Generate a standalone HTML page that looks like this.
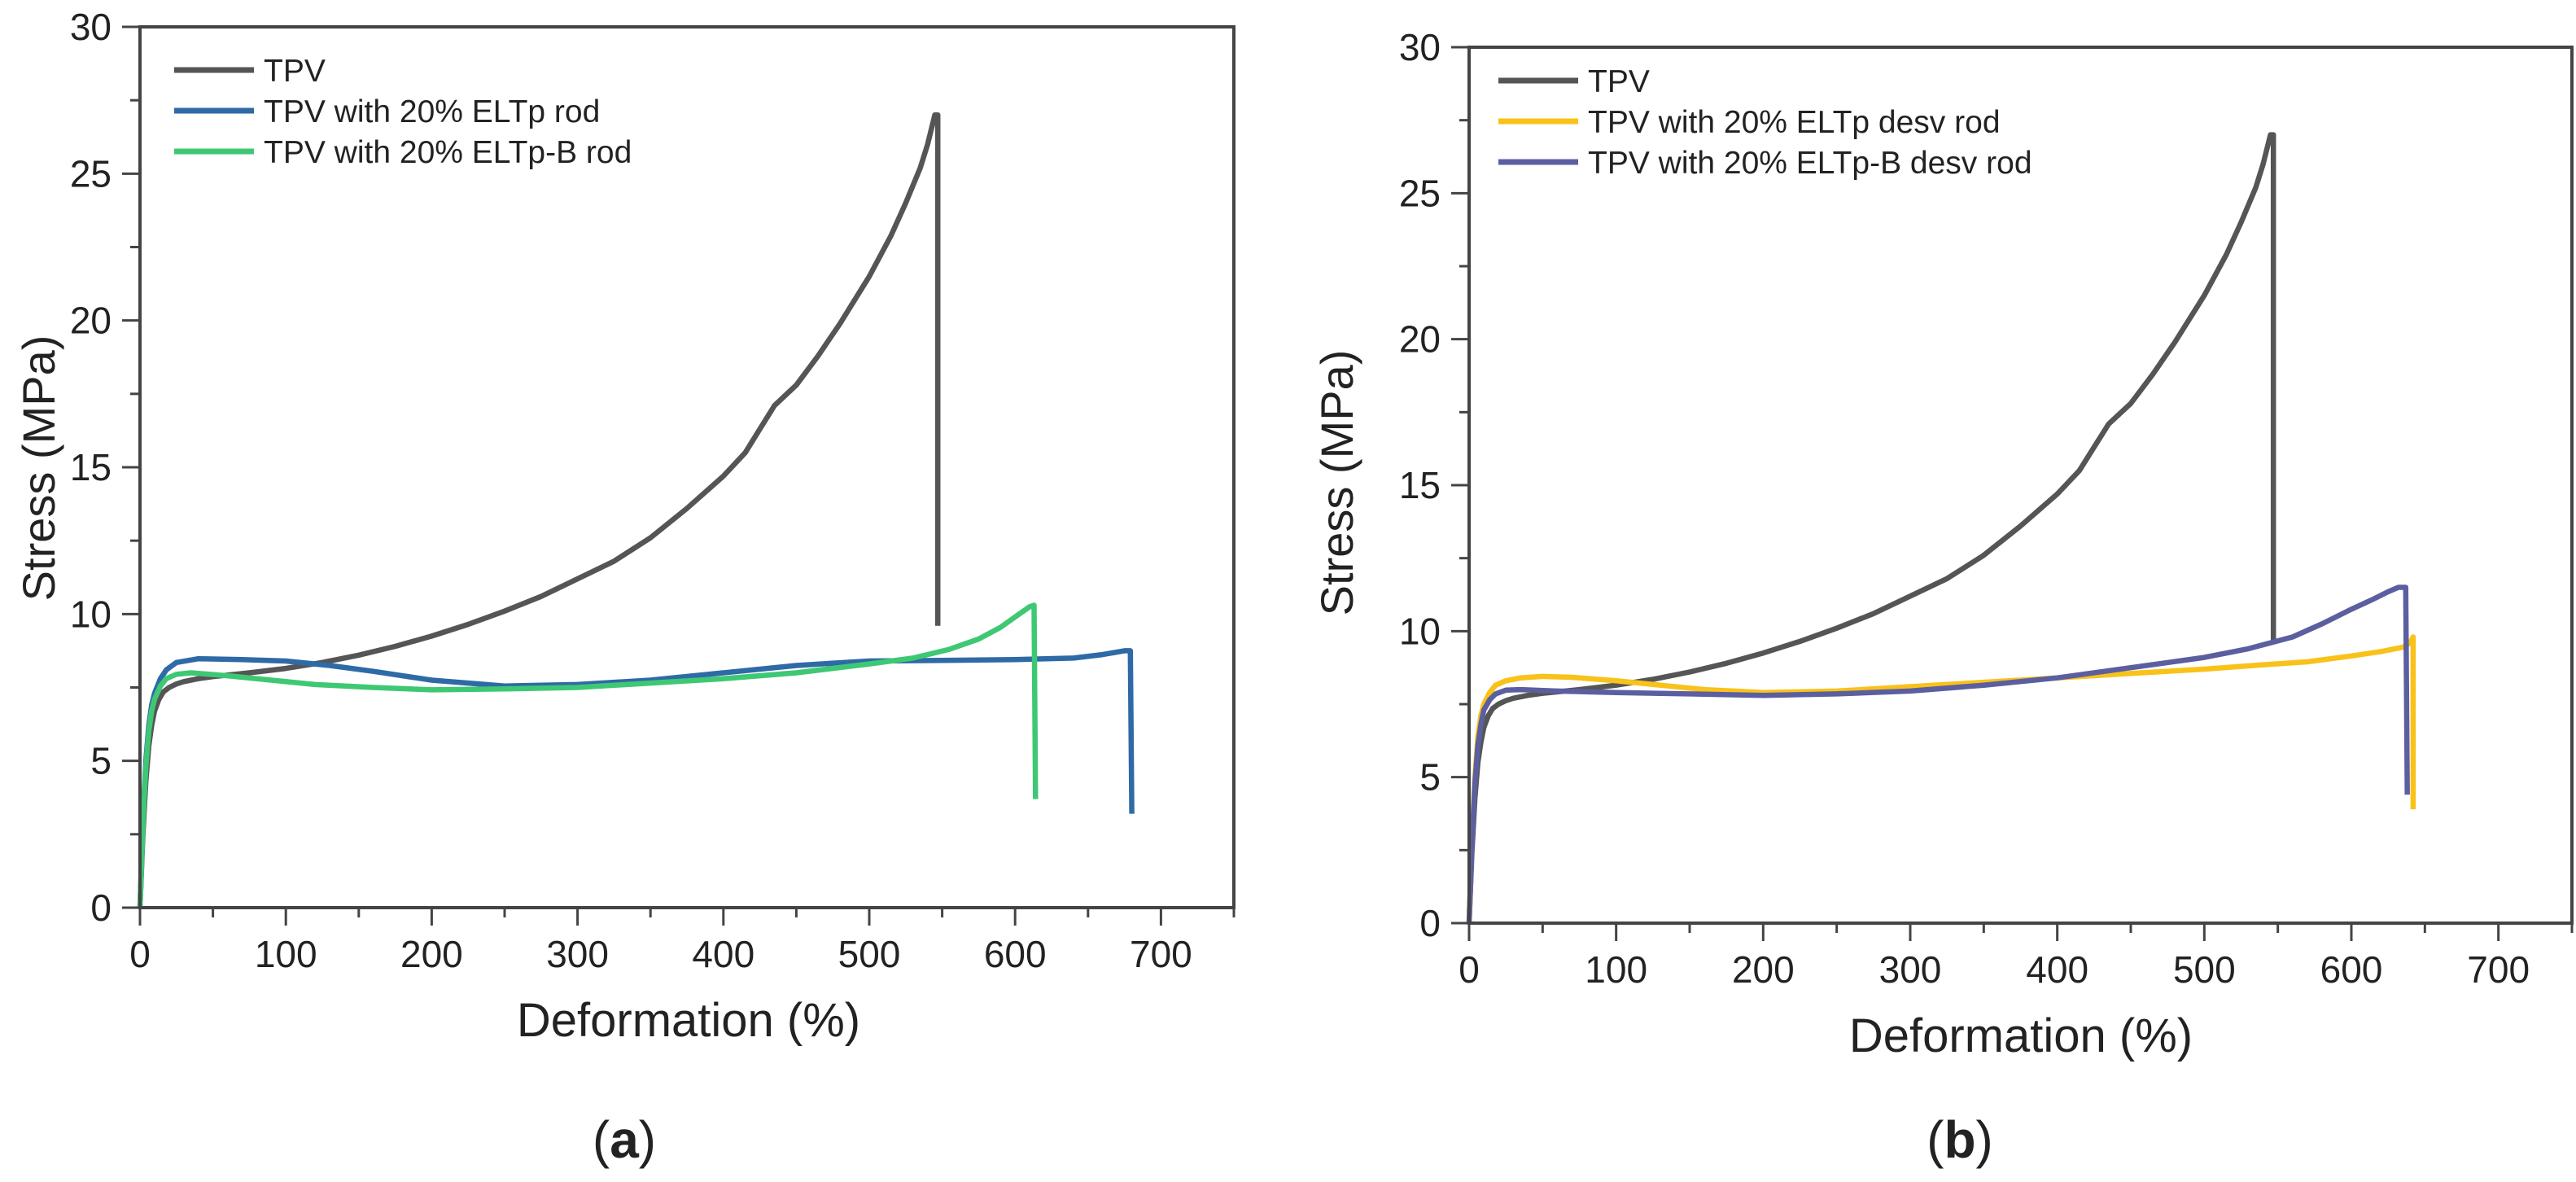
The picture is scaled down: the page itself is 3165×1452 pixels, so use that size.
<!DOCTYPE html>
<html><head><meta charset="utf-8"><style>
html,body{margin:0;padding:0;background:#fff;}
svg{display:block;}
text{font-family:"Liberation Sans",sans-serif;fill:#222;}
</style></head><body>
<svg id="fig" width="3165" height="1452" viewBox="0 0 3165 1452" xmlns="http://www.w3.org/2000/svg">
<text x="767" y="1422" font-family="Liberation Serif" font-size="64" text-anchor="middle">(<tspan font-weight="bold">a</tspan>)</text>
<text x="2408" y="1422" font-family="Liberation Serif" font-size="64" text-anchor="middle">(<tspan font-weight="bold">b</tspan>)</text>
</svg>
<script>
const xTicks = [0,100,200,300,400,500,600,700];
const yTicks = [0,5,10,15,20,25,30];
// Panel a
const tpvX = [0,2,4,6,8,10,13,16,20,25,30,40,50,75,100,125,150,175,200,225,250,275,300,325,350,375,400,415,425,435,450,465,480,500,515,525,535,540,545,547,547];
const tpvY = [0,2.5,4.3,5.5,6.2,6.7,7.1,7.35,7.5,7.62,7.7,7.8,7.87,8.0,8.15,8.35,8.6,8.9,9.25,9.65,10.1,10.6,11.2,11.8,12.6,13.6,14.7,15.5,16.3,17.1,17.8,18.8,19.9,21.5,22.9,24,25.2,26,27,27,9.6];
const blueX = [0,2,4,6,8,10,14,18,25,40,70,100,130,160,200,250,300,350,400,450,500,550,600,640,660,675,679,680];
const blueY = [0,3,5,6.2,6.9,7.3,7.8,8.1,8.35,8.48,8.45,8.4,8.25,8.05,7.75,7.55,7.6,7.75,8.0,8.25,8.4,8.42,8.45,8.5,8.62,8.75,8.75,3.2];
const greenX = [0,2,4,6,8,10,14,18,25,35,60,90,120,160,200,250,300,350,400,450,500,530,555,575,590,600,610,613,614];
const greenY = [0,2.8,4.8,6.0,6.7,7.1,7.55,7.8,7.95,8.0,7.9,7.75,7.6,7.5,7.42,7.45,7.5,7.65,7.8,8.0,8.3,8.5,8.8,9.15,9.55,9.9,10.25,10.3,3.7];
// Panel b
const yellowX = [0,2,4,6,8,10,14,18,25,35,50,70,100,130,160,200,250,300,350,400,450,500,540,570,600,620,635,640,642,642];
const yellowY = [0,3,5,6.4,7.1,7.5,7.9,8.15,8.3,8.4,8.45,8.42,8.3,8.15,8.0,7.9,7.95,8.1,8.25,8.4,8.55,8.7,8.85,8.95,9.15,9.3,9.45,9.6,9.8,3.9];
const purpleX = [0,2,4,6,8,10,14,18,25,35,60,100,150,200,250,300,350,400,450,500,530,560,580,600,615,625,632,637,638];
const purpleY = [0,2.8,4.8,6.1,6.8,7.3,7.65,7.85,7.98,8.0,7.95,7.9,7.85,7.8,7.85,7.95,8.15,8.4,8.75,9.1,9.4,9.8,10.25,10.75,11.1,11.35,11.5,11.5,4.4];

const NS='http://www.w3.org/2000/svg';
const svg=document.getElementById('fig');
function el(tag,attrs,parent){const e=document.createElementNS(NS,tag);for(const k in attrs)e.setAttribute(k,attrs[k]);(parent||svg).appendChild(e);return e;}

function panel(p){
  const g=el('g',{});
  
  
  const sx=v=>p.x0+(v/750)*(p.x1-p.x0);
  const sy=v=>p.y0-(v/30)*(p.y0-p.y1);
  p.series.forEach(s=>{
    const d=s.x.map((v,i)=>(i?'L':'M')+sx(v).toFixed(1)+','+sy(s.y[i]).toFixed(1)).join(' ');
    const path=el('path',{d:d,fill:'none',stroke:s.color,'stroke-width':6.5,'stroke-linejoin':'round'},g);
    
    
  });
  const fr=el('rect',{x:p.x0,y:p.y1,width:p.x1-p.x0,height:p.y0-p.y1,fill:'none',stroke:'#444','stroke-width':4},g);
  
  
  for(let v=0;v<=750;v+=50){
    const major=v%100===0;
    el('line',{x1:sx(v),x2:sx(v),y1:p.y0,y2:p.y0+(major?22:12),stroke:'#444','stroke-width':3},g);
  }
  xTicks.forEach(v=>{
    const t=el('text',{x:sx(v),y:p.y0+73,'font-size':46,'text-anchor':'middle'},g);
    t.textContent=v;
    
    
  });
  for(let v=0;v<=30;v+=2.5){
    const major=v%5===0;
    el('line',{x1:p.x0,x2:p.x0-(major?22:12),y1:sy(v),y2:sy(v),stroke:'#444','stroke-width':3},g);
  }
  yTicks.forEach(v=>{
    const t=el('text',{x:p.x0-35,y:sy(v)+16,'font-size':46,'text-anchor':'end'},g);
    t.textContent=v;
    
    
  });
  const xt=el('text',{x:p.xtx,y:p.xty+20,'font-size':58,'text-anchor':'middle'},g);
  xt.textContent='Deformation (%)';
  
  
  const yt=el('text',{x:0,y:0,'font-size':56,'text-anchor':'middle',transform:`translate(${p.ytx+20},${p.yty}) rotate(-90)`},g);
  yt.textContent='Stress (MPa)';
  
  
  p.series.forEach((s,i)=>{
    const y=p.ly+i*50;
    const ln=el('line',{x1:p.lx,x2:p.lx+98,y1:y,y2:y,stroke:s.color,'stroke-width':7},g);
    
    
    const t=el('text',{x:p.lx+110,y:y+14,'font-size':39},g);
    t.textContent=s.label;
    
    
  });
}
panel({name:'chart-a',x0:172,x1:1516,y0:1115,y1:33,xtx:846,xty:1253,ytx:47,yty:575,lx:214,ly:86,
  series:[{id:'line-tpv',x:tpvX,y:tpvY,color:'#555555',label:'TPV'},
          {id:'line-eltp-rod',x:blueX,y:blueY,color:'#2e6aa6',label:'TPV with 20% ELTp rod'},
          {id:'line-eltp-b-rod',x:greenX,y:greenY,color:'#3fc874',label:'TPV with 20% ELTp-B rod'}]});
panel({name:'chart-b',x0:1805,x1:3160,y0:1134,y1:58,xtx:2483,xty:1272,ytx:1642,yty:593,lx:1841,ly:99,
  series:[{id:'line-tpv-b',x:tpvX,y:tpvY,color:'#555555',label:'TPV'},
          {id:'line-eltp-desv-rod',x:yellowX,y:yellowY,color:'#f9c21a',label:'TPV with 20% ELTp desv rod'},
          {id:'line-eltp-b-desv-rod',x:purpleX,y:purpleY,color:'#5b5fa0',label:'TPV with 20% ELTp-B desv rod'}]});
</script>
</body></html>
